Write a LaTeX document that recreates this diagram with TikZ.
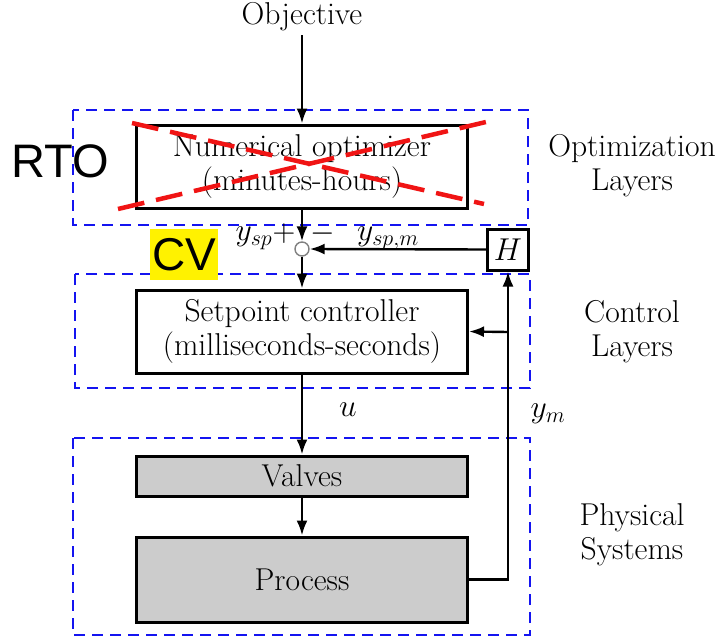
\RequirePackage{fix-cm}
\documentclass[tikz,border=0pt]{standalone}
\usepackage{fontspec}
\newfontfamily\arialf{Liberation Sans}
\usetikzlibrary{arrows.meta}
\definecolor{dashblue}{RGB}{20,20,240}
\definecolor{boxgray}{RGB}{204,204,204}
\definecolor{crossred}{RGB}{240,20,20}
\begin{document}
\begin{tikzpicture}[x=1pt,y=-1pt,
  font=\fontsize{31.6}{34}\selectfont,
  blk/.style={draw, line width=3pt, inner sep=0pt, align=center, minimum width=331pt},
  grayblk/.style={blk, fill=boxgray},
  layer/.style={draw=dashblue, line width=2.8pt, dash pattern=on 11pt off 7pt},
  arr/.style={line width=2.4pt, -{Latex[length=15pt,width=11pt]}},
  cross/.style={draw=crossred, line width=4.5pt, dash pattern=on 27pt off 12pt},
  lbl/.style={inner sep=0pt, align=center}
]
\useasboundingbox (0,0) rectangle (721,637);

% layer boxes
\draw[layer] (73,110) rectangle (528,225);
\draw[layer] (75,274) rectangle (530,388);
\draw[layer] (73,438) rectangle (530,635);

% nodes
\node[lbl] (obj) at (302,17) {Objective};
\node[blk, minimum height=83pt] (opt) at (302,166.5) {Numerical optimizer\\(minutes-hours)};
\node[circle, draw=gray, fill=white, line width=1.4pt, minimum size=14pt, inner sep=0pt] (sum) at (302,249) {};
\node[draw, line width=3pt, fill=white, minimum width=41pt, minimum height=41pt, inner sep=0pt] (H) at (508,249.5) {$H$};
\node[blk, minimum height=83pt] (sp) at (302,331.5) {Setpoint controller\\(milliseconds-seconds)};
\node[grayblk, minimum height=40pt] (val) at (302,476) {Valves};
\node[grayblk, minimum height=85pt] (proc) at (302,579.5) {Process};

% right-side labels
\node[lbl] (optl) at (632,166) {Optimization\\Layers};
\node[lbl] (ctll) at (632,332) {Control\\Layers};
\node[lbl] (phyl) at (632,535) {Physical\\Systems};

% signal labels
\node[lbl] (ysp) at (254,238) {$y_{sp}$};
\node[lbl] (plus) at (284,234) {$+$};
\node[lbl] (minus) at (323,234) {$-$};
\node[lbl] (yspm) at (388,238) {$y_{sp,m}$};
\node[lbl] (u) at (348,410) {$u$};
\node[lbl] (ym) at (548,414) {$y_m$};

% connectors
\draw[arr] (obj.south) ++(0,4) -- (opt.north);
\draw[arr] (opt.south) -- (sum.north);
\draw[arr] (sum.south) -- (sp.north);
\draw[arr] (H.west) -- (sum.east);
\draw[arr] (sp.south) -- (val.north);
\draw[arr] (val.south) -- (proc.north);
\coordinate (fb) at (508,579.5);
\coordinate (br) at (508,332);
\draw[arr] (proc.east) -- (fb) -- (H.south);
\draw[arr] (br) -- (sp.east);

% annotations
\node[lbl, font=\arialf\fontsize{47}{50}\selectfont] (rto) at (60,161) {RTO};
\node[fill=yellow, inner sep=0pt, minimum width=68pt, minimum height=51pt, font=\arialf\fontsize{46}{50}\selectfont] (cv) at (184,254.5) {CV};
\coordinate (c1a) at (132,123);
\coordinate (c1b) at (484,204);
\coordinate (c2a) at (118,209);
\coordinate (c2b) at (486,122);
\draw[cross] (c1a) -- (c1b);
\draw[cross] (c2a) -- (c2b);
\end{tikzpicture}
\end{document}
